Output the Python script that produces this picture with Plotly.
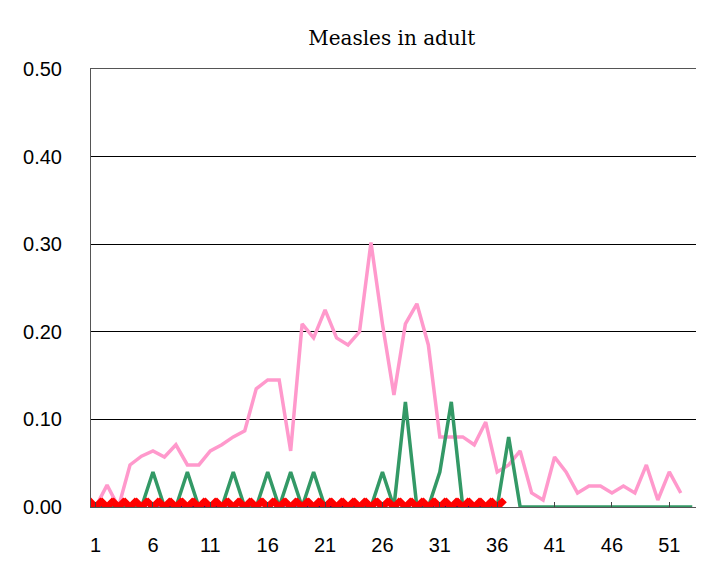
import plotly.graph_objects as go

weeks = list(range(1, 54))
pink = [0.0, 0.025, 0.0, 0.048, 0.058, 0.064, 0.057, 0.071, 0.048, 0.048,
        0.064, 0.071, 0.08, 0.087, 0.135, 0.145, 0.145, 0.064, 0.209, 0.193,
        0.225, 0.193, 0.185, 0.2, 0.302, 0.209, 0.128, 0.209, 0.232, 0.185,
        0.08, 0.08, 0.08, 0.071, 0.097, 0.04, 0.048, 0.064, 0.016, 0.008,
        0.057, 0.04, 0.016, 0.024, 0.024, 0.016, 0.024, 0.016, 0.048, 0.008,
        0.04, 0.016]
green_peaks = {6: 0.04, 9: 0.04, 13: 0.04, 16: 0.04, 18: 0.04, 20: 0.04,
               26: 0.04, 28: 0.12, 31: 0.04, 32: 0.12, 37: 0.08}
green = [green_peaks.get(w, 0.0) for w in weeks]
zero_weeks = list(range(1, 37))
zeros = [0.0] * len(zero_weeks)

fig = go.Figure()
fig.add_trace(go.Scatter(x=weeks[:len(pink)], y=pink, mode="lines",
                         line=dict(color="#ff99cc", width=3.5)))
fig.add_trace(go.Scatter(x=weeks, y=green, mode="lines",
                         line=dict(color="#339966", width=3.5)))
fig.add_trace(go.Scatter(x=zero_weeks, y=zeros, mode="lines+markers",
                         line=dict(color="#000080", width=2, dash="dot"),
                         marker=dict(symbol="x-thin", size=9, color="#000080",
                                     line=dict(color="#000080", width=2))))
fig.add_trace(go.Scatter(x=zero_weeks, y=zeros, mode="markers",
                         marker=dict(symbol="x", size=17, color="#ff0000",
                                     line=dict(width=0))))

fig.update_layout(
    width=704, height=583, showlegend=False,
    paper_bgcolor="white", plot_bgcolor="white",
    margin=dict(l=83, r=14, t=61, b=84, autoexpand=False),
    title=dict(text="Measles in adult", x=0.545, y=0.96, xanchor="center",
               font=dict(family="DejaVu Serif", size=20, color="black")),
    font=dict(family="Liberation Sans", size=20, color="black"),
    xaxis=dict(range=[0.6, 53.5], tickmode="array", tickvals=list(range(1, 53, 5)),
               showgrid=False, showline=True, linecolor="#555", ticks="inside",
               ticklen=5, mirror=True, zeroline=False, automargin=False),
    yaxis=dict(range=[0, 0.5], tickvals=[0, 0.1, 0.2, 0.3, 0.4, 0.5],
               tickformat=".2f", showgrid=True, gridcolor="black", gridwidth=1,
               showline=True, linecolor="#555", mirror=True, zeroline=False,
               ticks="", automargin=False),
)
fig.update_xaxes(ticklabelstandoff=20)
fig.update_yaxes(ticklabelstandoff=24)
fig.write_html("out.html")
